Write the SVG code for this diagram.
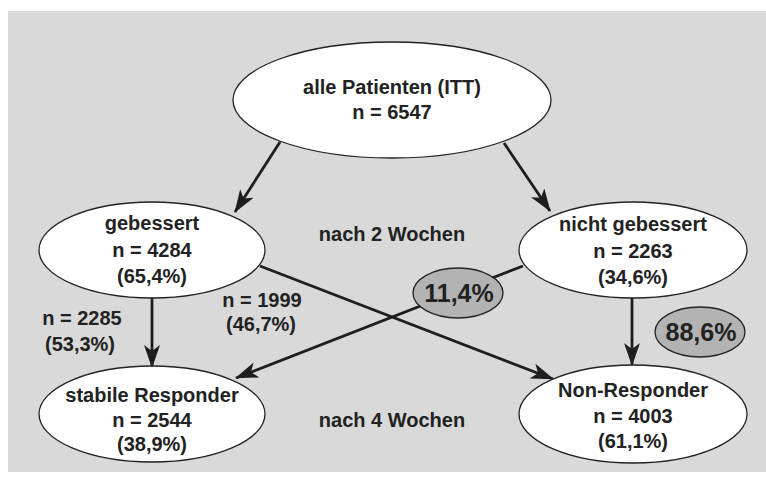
<svg xmlns="http://www.w3.org/2000/svg" width="766" height="491" viewBox="0 0 766 491">
<defs>
<style>
.bg{fill:#d9d9d9}
.node{fill:#ffffff;stroke:#222;stroke-width:1.3}
.pct{fill:#b3b3b3;stroke:#222;stroke-width:1.3}
.edge{stroke:#1e1e1e;stroke-width:2.8;fill:none}
text{font-family:"Liberation Sans",Arial,sans-serif;font-weight:bold;fill:#222;text-anchor:middle}
.t{font-size:20px}
.big{font-size:25px}
</style>
<marker id="arr" markerUnits="userSpaceOnUse" markerWidth="24" markerHeight="16" refX="22" refY="8" orient="auto">
<path d="M0,0 L23,8 L0,16 L6,8 Z" fill="#1e1e1e"/>
</marker>
</defs>
<rect class="bg" x="8" y="11" width="758" height="461"/>
<g id="connectors">
<line class="edge" x1="280" y1="142" x2="235" y2="212" marker-end="url(#arr)"/>
<line class="edge" x1="504" y1="143" x2="550" y2="211" marker-end="url(#arr)"/>
<line class="edge" x1="152" y1="298" x2="152" y2="367" marker-end="url(#arr)"/>
<line class="edge" x1="632" y1="298" x2="632" y2="365" marker-end="url(#arr)"/>
<line class="edge" x1="260" y1="266" x2="553" y2="379" marker-end="url(#arr)"/>
<line class="edge" x1="523" y1="266" x2="236" y2="378" marker-end="url(#arr)"/>
</g>
<g id="alle">
<ellipse class="node" cx="392" cy="100" rx="159" ry="58"/>
<text class="t" x="392" y="94">alle Patienten (ITT)</text>
<text class="t" x="392" y="119">n = 6547</text>
</g>
<g id="gebessert">
<ellipse class="node" cx="152" cy="250" rx="113" ry="48"/>
<text class="t" x="152" y="230">gebessert</text>
<text class="t" x="152" y="257">n = 4284</text>
<text class="t" x="152" y="283">(65,4%)</text>
</g>
<g id="nichtgebessert">
<ellipse class="node" cx="633" cy="250" rx="114" ry="48"/>
<text class="t" x="633" y="231">nicht gebessert</text>
<text class="t" x="633" y="258">n = 2263</text>
<text class="t" x="633" y="284">(34,6%)</text>
</g>
<g id="stabile">
<ellipse class="node" cx="152" cy="414" rx="113" ry="48"/>
<text class="t" x="152" y="402">stabile Responder</text>
<text class="t" x="152" y="427">n = 2544</text>
<text class="t" x="152" y="451">(38,9%)</text>
</g>
<g id="nonresponder">
<ellipse class="node" cx="633" cy="414" rx="114" ry="49"/>
<text class="t" x="633" y="397">Non-Responder</text>
<text class="t" x="633" y="423">n = 4003</text>
<text class="t" x="633" y="448">(61,1%)</text>
</g>
<g id="p114">
<ellipse class="pct" cx="458" cy="293" rx="45" ry="25"/>
<text class="big" x="459" y="302">11,4%</text>
</g>
<g id="p886">
<ellipse class="pct" cx="700" cy="332" rx="45" ry="25"/>
<text class="big" x="701" y="341">88,6%</text>
</g>
<g id="labels">
<text class="t" x="392" y="241">nach 2 Wochen</text>
<text class="t" x="392" y="427">nach 4 Wochen</text>
<text class="t" x="82" y="325">n = 2285</text>
<text class="t" x="80" y="351">(53,3%)</text>
<text class="t" x="262" y="307">n = 1999</text>
<text class="t" x="261" y="331">(46,7%)</text>
</g>
</svg>
